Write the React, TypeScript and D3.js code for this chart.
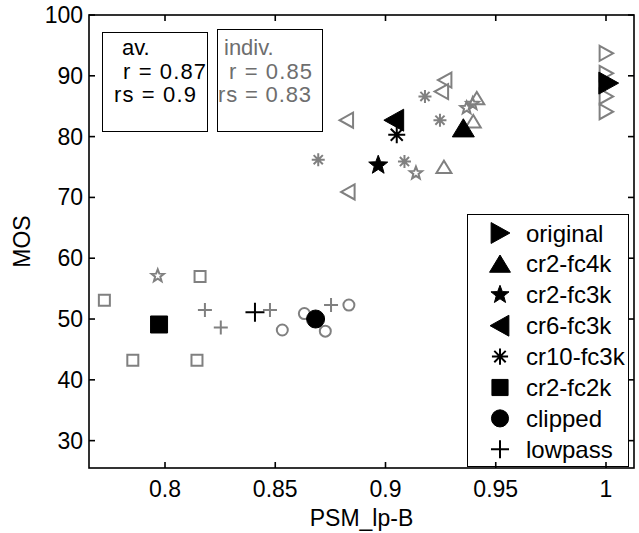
import React from "react";
import * as d3 from "d3";

// ---- data ----
const xTicks = [0.8, 0.85, 0.9, 0.95, 1];
const yTicks = [30, 40, 50, 60, 70, 80, 90, 100];
const xTickLabels = ["0.8", "0.85", "0.9", "0.95", "1"];

const seriesNames = ["original", "cr2-fc4k", "cr2-fc3k", "cr6-fc3k", "cr10-fc3k", "cr2-fc2k", "clipped", "lowpass"];
const seriesMarkers = ["rtri", "utri", "star", "ltri", "aster", "square", "circle", "plus"];

const originalX = [1.0, 1.0, 1.0, 1.0];
const originalY = [93.7, 90.4, 86.6, 84.1];
const cr2fc4kX = [0.9265, 0.9398, 0.9414];
const cr2fc4kY = [75.0, 82.5, 86.3];
const cr2fc3kX = [0.7967, 0.9138, 0.9368, 0.9395];
const cr2fc3kY = [57.1, 74.0, 84.7, 85.4];
const cr6fc3kX = [0.8824, 0.8831, 0.9255, 0.927];
const cr6fc3kY = [82.7, 70.9, 87.4, 89.3];
const cr10fc3kX = [0.8695, 0.9086, 0.9179, 0.9247];
const cr10fc3kY = [76.2, 75.9, 86.6, 82.7];
const cr2fc2kX = [0.7725, 0.8159, 0.7854, 0.8145];
const cr2fc2kY = [53.1, 57.0, 43.2, 43.2];
const clippedX = [0.8532, 0.8632, 0.8727, 0.8834];
const clippedY = [48.2, 50.9, 48.0, 52.3];
const lowpassX = [0.8181, 0.8253, 0.8476, 0.8753];
const lowpassY = [51.5, 48.6, 51.5, 52.3];

// averages per series in the same order as seriesNames
const avgX = [1.001, 0.9353, 0.8967, 0.904, 0.9051, 0.7973, 0.8683, 0.8408];
const avgY = [88.8, 81.4, 75.3, 82.7, 80.3, 49.1, 50.0, 51.1];

const indivX = [originalX, cr2fc4kX, cr2fc3kX, cr6fc3kX, cr10fc3kX, cr2fc2kX, clippedX, lowpassX];
const indivY = [originalY, cr2fc4kY, cr2fc3kY, cr6fc3kY, cr10fc3kY, cr2fc2kY, clippedY, lowpassY];

const avText = ["av.", "r = 0.87", "rs = 0.9"];
const indivText = ["indiv.", "r = 0.85", "rs = 0.83"];

// ---- layout ----
const W = 639, H = 533;
const L = 89, R = 634, T = 15, B = 468;
const GREY = "#808080";
const FONT = "'Liberation Sans', Arial, sans-serif";

const x = d3.scaleLinear().domain([0.76553, 1.0127]).range([L, R]);
const y = d3.scaleLinear().domain([25.5, 100]).range([B, T]);

function markerPath(type: string, s: number): string {
  const h = s / 2;
  switch (type) {
    case "rtri": return `M${-h * 0.85},${-h} L${h * 0.95},0 L${-h * 0.85},${h} Z`;
    case "ltri": return `M${h * 0.85},${-h} L${-h * 0.95},0 L${h * 0.85},${h} Z`;
    case "utri": return `M${-h},${h * 0.8} L0,${-h * 0.85} L${h},${h * 0.8} Z`;
    case "square": return `M${-h},${-h} H${h} V${h} H${-h} Z`;
    case "circle": return `M${-h},0 A${h},${h} 0 1,0 ${h},0 A${h},${h} 0 1,0 ${-h},0 Z`;
    case "plus": return `M${-h},0 H${h} M0,${-h} V${h}`;
    case "aster": {
      const d = h * 0.707;
      return `M${-h},0 H${h} M0,${-h} V${h} M${-d},${-d} L${d},${d} M${-d},${d} L${d},${-d}`;
    }
    case "star": {
      const pts: string[] = [];
      for (let i = 0; i < 10; i++) {
        const r = i % 2 === 0 ? h : h * 0.42;
        const a = -Math.PI / 2 + (i * Math.PI) / 5;
        pts.push(`${(r * Math.cos(a)).toFixed(2)},${(r * Math.sin(a)).toFixed(2)}`);
      }
      return "M" + pts.join(" L") + " Z";
    }
  }
  return "";
}

const greySize: Record<string, number> = { rtri: 15, ltri: 15, utri: 15, square: 11, circle: 11, plus: 14, aster: 13, star: 13 };
const blackSize: Record<string, number> = { rtri: 22, ltri: 22, utri: 22, square: 17, circle: 18, plus: 19, aster: 17, star: 20 };
const lineOnly = (t: string) => t === "plus" || t === "aster";

function Marker({ type, cx, cy, filled, size }: { type: string; cx: number; cy: number; filled: boolean; size: number }) {
  const d = markerPath(type, size);
  if (filled) {
    if (lineOnly(type)) return <path d={d} transform={`translate(${cx},${cy})`} stroke="#000" strokeWidth={2} fill="none" />;
    return <path d={d} transform={`translate(${cx},${cy})`} fill="#000" stroke="#000" strokeWidth={1} />;
  }
  return <path d={d} transform={`translate(${cx},${cy})`} fill="none" stroke={GREY} strokeWidth={2} />;
}

export default function App() {
  const tickLen = 6;
  return (
    <svg width={W} height={H} style={{ position: "absolute", left: 0, top: 0, background: "#fff" }} fontFamily={FONT}>
      <rect x={0} y={0} width={W} height={H} fill="#fff" />
      {/* individual points */}
      {seriesMarkers.map((m, si) =>
        indivX[si].map((vx, i) => (
          <Marker key={`g${si}-${i}`} type={m} cx={x(vx)} cy={y(indivY[si][i])} filled={false} size={greySize[m]} />
        ))
      )}
      {/* averages */}
      {seriesMarkers.map((m, si) => (
        <Marker key={`b${si}`} type={m} cx={x(avgX[si])} cy={y(avgY[si])} filled={true} size={blackSize[m]} />
      ))}

      {/* annotation boxes */}
      <rect x={102.5} y={32.5} width={105} height={99} fill="none" stroke="#000" strokeWidth={1} />
      <text x={122} y={55} fontSize={22} fill="#000">{avText[0]}</text>
      <text x={206} y={79} fontSize={22} fill="#000" textAnchor="end" textLength={83}>{avText[1]}</text>
      <text x={114} y={102} fontSize={22} fill="#000" textLength={82}>{avText[2]}</text>
      <rect x={217.5} y={29.5} width={105} height={102} fill="none" stroke="#000" strokeWidth={1} />
      <text x={224} y={55} fontSize={22} fill="#6e6e6e">{indivText[0]}</text>
      <text x={229} y={79} fontSize={22} fill="#6e6e6e" textLength={83}>{indivText[1]}</text>
      <text x={218} y={102} fontSize={22} fill="#6e6e6e" textLength={93}>{indivText[2]}</text>

      {/* legend */}
      <rect x={467.5} y={214.5} width={161} height={252} fill="#fff" stroke="#000" strokeWidth={1} />
      {seriesNames.map((n, i) => {
        const cy = 233 + i * 30.9;
        return (
          <g key={n}>
            <Marker type={seriesMarkers[i]} cx={500} cy={cy} filled={true} size={blackSize[seriesMarkers[i]] * 0.95} />
            <text x={526} y={cy + 8.5} fontSize={24} fill="#000">{n}</text>
          </g>
        );
      })}

      {/* axes frame */}
      <rect x={L} y={T} width={R - L} height={B - T} fill="none" stroke="#000" strokeWidth={1.6} />
      {xTicks.map((t, i) => (
        <g key={`xt${i}`}>
          <line x1={x(t)} x2={x(t)} y1={B} y2={B - tickLen} stroke="#000" strokeWidth={1.6} />
          <line x1={x(t)} x2={x(t)} y1={T} y2={T + tickLen} stroke="#000" strokeWidth={1.6} />
          <text x={x(t)} y={497} fontSize={23} textAnchor="middle" fill="#000">{xTickLabels[i]}</text>
        </g>
      ))}
      {yTicks.map((t, i) => (
        <g key={`yt${i}`}>
          <line x1={L} x2={L + tickLen} y1={y(t)} y2={y(t)} stroke="#000" strokeWidth={1.6} />
          <line x1={R} x2={R - tickLen} y1={y(t)} y2={y(t)} stroke="#000" strokeWidth={1.6} />
          <text x={83} y={y(t) + 8} fontSize={23} textAnchor="end" fill="#000">{String(t)}</text>
        </g>
      ))}
      <text x={(L + R) / 2} y={526} fontSize={23} textAnchor="middle" fill="#000">PSM_lp-B</text>
      <text transform={`translate(30,${(T + B) / 2}) rotate(-90)`} fontSize={23} textAnchor="middle" fill="#000">MOS</text>
    </svg>
  );
}
